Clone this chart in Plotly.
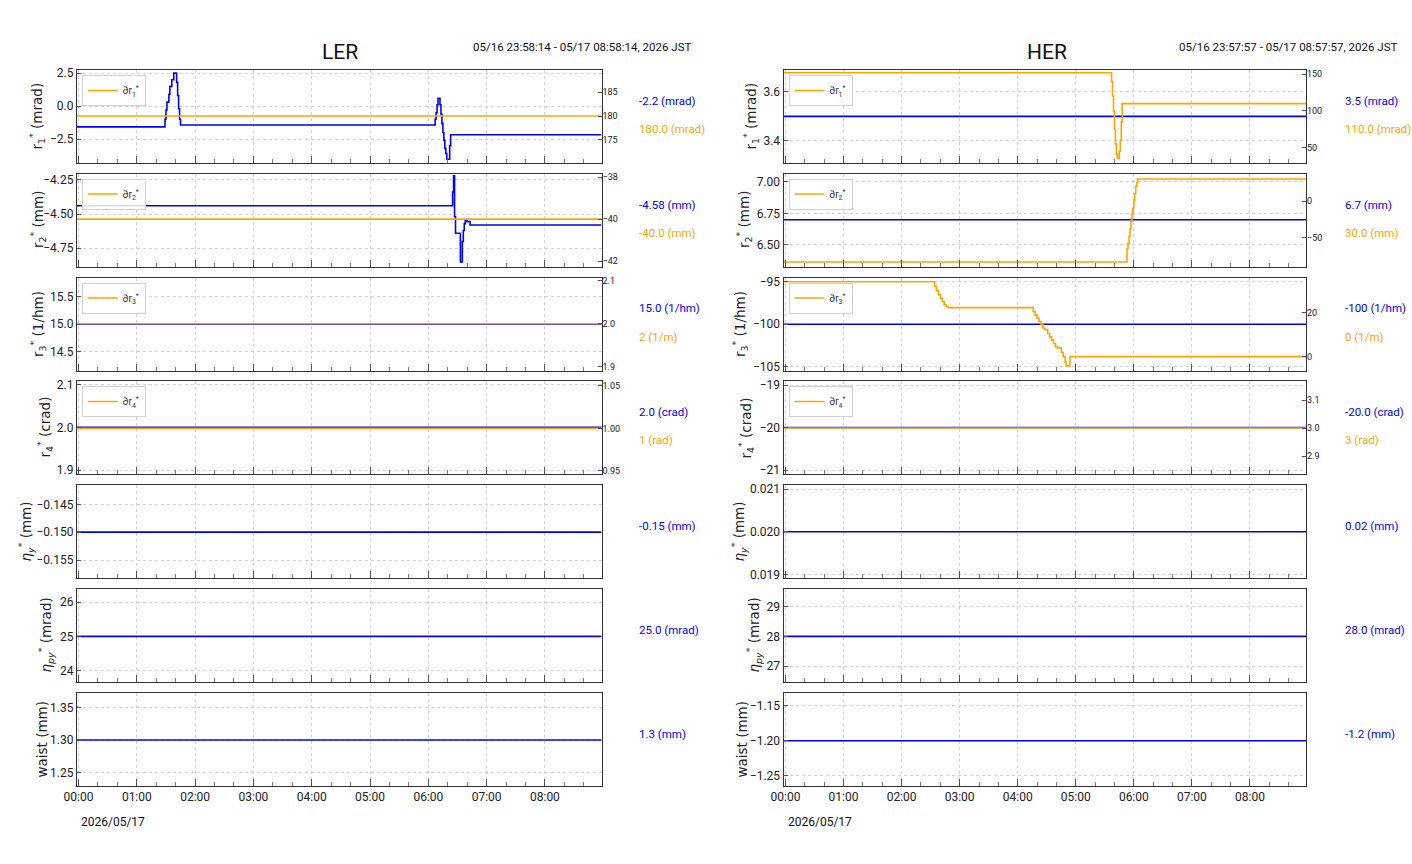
import plotly.graph_objects as go

W, H = 1412, 864
BLUE = "#0000ff"
ORANGE = "#ffa500"
NARROW = "Roboto, Liberation Sans, sans-serif"
WIDE = "DejaVu Sans, sans-serif"

LER_START = "2026-05-16 23:58:14"
LER_END = "2026-05-17 08:58:14"
HER_START = "2026-05-16 23:57:57"
HER_END = "2026-05-17 08:57:57"
DAY = "2026-05-17"

# ---------------- LER data ----------------
ler_r1_t = ["start", "01:29", "01:30", "01:31", "01:33", "01:34", "01:36", "01:38", "01:41", "01:42",
            "01:43", "01:44", "01:45", "06:07", "06:08", "06:09", "06:10", "06:12", "06:13", "06:14",
            "06:15", "06:16", "06:17", "06:18", "06:19", "06:22", "06:23", "end"]
ler_r1_v = [-1.58, -1.0, -0.3, 0.3, 0.9, 1.5, 2.0, 2.5, 1.8, 0.8,
            -0.2, -1.0, -1.43, -1.0, -0.5, 0.1, 0.6, 0.1, -0.6, -1.3,
            -2.0, -2.6, -3.2, -3.6, -4.03, -3.0, -2.17, -2.17]
ler_dr1_t = ["start", "end"]
ler_dr1_v = [180.0, 180.0]

ler_r2_t = ["start", "06:25", "06:26", "06:27", "06:28", "06:33", "06:35", "06:36", "06:37", "06:38",
            "06:40", "06:43", "end"]
ler_r2_v = [-4.44, -4.34, -4.22, -4.52, -4.64, -4.85, -4.70, -4.62, -4.57, -4.55,
            -4.555, -4.58, -4.58]
ler_dr2_t = ["start", "end"]
ler_dr2_v = [-40.0, -40.0]

ler_r3_t = ["start", "end"]
ler_r3_v = [15.0, 15.0]
ler_dr3_t = ["start", "end"]
ler_dr3_v = [2.0, 2.0]

ler_r4_t = ["start", "end"]
ler_r4_v = [2.0, 2.0]
ler_dr4_t = ["start", "end"]
ler_dr4_v = [1.0, 1.0]

ler_etay_t = ["start", "end"]
ler_etay_v = [-0.15, -0.15]
ler_etapy_t = ["start", "end"]
ler_etapy_v = [25.0, 25.0]
ler_waist_t = ["start", "end"]
ler_waist_v = [1.3, 1.3]

# ---------------- HER data ----------------
her_r1_t = ["start", "end"]
her_r1_v = [3.5, 3.5]
her_dr1_t = ["start", "05:37", "05:38", "05:39", "05:40", "05:41", "05:42", "05:43", "05:45", "05:46",
             "05:47", "05:48", "end"]
her_dr1_v = [152.2, 140, 120, 100, 75, 55, 40, 35, 45, 60,
             85, 110, 110]

her_r2_t = ["start", "end"]
her_r2_v = [6.7, 6.7]
her_dr2_t = ["start", "05:53", "05:54", "05:55", "05:56", "05:57", "05:58", "05:59", "06:00", "06:01",
             "06:02", "06:03", "06:04", "end"]
her_dr2_v = [-83, -65, -58, -48, -38, -28, -18, -10, 0, 10,
             20, 25, 30, 30]

her_r3_t = ["start", "end"]
her_r3_v = [-100, -100]
her_dr3_t = ["start", "02:34", "02:36", "02:38", "02:40", "02:42", "02:44", "02:46", "02:48", "04:16",
             "04:18", "04:20", "04:22", "04:24", "04:26", "04:28", "04:31", "04:33", "04:35", "04:37",
             "04:39", "04:41", "04:45", "04:47", "04:49", "04:50", "04:54", "end"]
her_dr3_v = [34.1, 32, 30, 28.2, 26.5, 25, 23.6, 22.8, 22.3, 20.5,
             19, 17.5, 16, 14.5, 13, 12.3, 10.5, 9, 7.5, 6,
             4.5, 4, 2, 0, -2.5, -4.2, 0, 0]

her_r4_t = ["start", "end"]
her_r4_v = [-20.0, -20.0]
her_dr4_t = ["start", "end"]
her_dr4_v = [3.0, 3.0]

her_etay_t = ["start", "end"]
her_etay_v = [0.02, 0.02]
her_etapy_t = ["start", "end"]
her_etapy_v = [28.0, 28.0]
her_waist_t = ["start", "end"]
her_waist_v = [-1.2, -1.2]

# labels
ler_blue_labels = ["-2.2 (mrad)", "-4.58 (mm)", "15.0 (1/hm)", "2.0 (crad)", "-0.15 (mm)", "25.0 (mrad)", "1.3 (mm)"]
ler_orange_labels = ["180.0 (mrad)", "-40.0 (mm)", "2 (1/m)", "1 (rad)"]
her_blue_labels = ["3.5 (mrad)", "6.7 (mm)", "-100 (1/hm)", "-20.0 (crad)", "0.02 (mm)", "28.0 (mrad)", "-1.2 (mm)"]
her_orange_labels = ["110.0 (mrad)", "30.0 (mm)", "0 (1/m)", "3 (rad)"]

y_titles = ["r<sub>1</sub><sup>*</sup> (mrad)", "r<sub>2</sub><sup>*</sup> (mm)", "r<sub>3</sub><sup>*</sup> (1/hm)",
            "r<sub>4</sub><sup>*</sup> (crad)", "<i>η</i><sub><i>y</i></sub><sup>*</sup> (mm)",
            "<i>η</i><sub><i>py</i></sub><sup>*</sup> (mrad)", "waist (mm)"]
legend_names = ["∂r<sub>1</sub><sup>*</sup>", "∂r<sub>2</sub><sup>*</sup>",
                "∂r<sub>3</sub><sup>*</sup>", "∂r<sub>4</sub><sup>*</sup>"]


def full(ts, start, end):
    if ts == "start":
        return start
    if ts == "end":
        return end
    return f"{DAY} {ts}"


sides = [
    dict(name="LER", start=LER_START, end=LER_END, x0=76.8, x1=601.5,
         title_x=340, range_x=693, range_text="05/16 23:58:14 - 05/17 08:58:14, 2026 JST",
         lab_x=637,
         blue=[(ler_r1_t, ler_r1_v), (ler_r2_t, ler_r2_v), (ler_r3_t, ler_r3_v), (ler_r4_t, ler_r4_v),
               (ler_etay_t, ler_etay_v), (ler_etapy_t, ler_etapy_v), (ler_waist_t, ler_waist_v)],
         orange=[(ler_dr1_t, ler_dr1_v), (ler_dr2_t, ler_dr2_v), (ler_dr3_t, ler_dr3_v), (ler_dr4_t, ler_dr4_v)],
         blue_labels=ler_blue_labels, orange_labels=ler_orange_labels,
         yl=[dict(range=[-4.32, 2.74], dtick=2.5, tickformat=".1f"),
             dict(range=[-4.883, -4.204], dtick=0.25, tickformat=".2f"),
             dict(range=[14.16, 15.85], dtick=0.5, tickformat=".1f"),
             dict(range=[1.8906, 2.109], dtick=0.1, tickformat=".1f"),
             dict(range=[-0.15823, -0.14153], dtick=0.005, tickformat=".3f"),
             dict(range=[23.66, 26.39], dtick=1, tickformat="d"),
             dict(range=[1.2297, 1.3719], dtick=0.05, tickformat=".2f")],
         yr=[dict(range=[170.1, 189.7], dtick=5, tickformat="d"),
             dict(range=[-42.26, -37.82], dtick=2, tickformat="d"),
             dict(range=[1.891, 2.108], dtick=0.1, tickformat=".1f"),
             dict(range=[0.9464, 1.0556], dtick=0.05, tickformat=".2f")],
         title_px=[37, 38, 38, 45, 26, 46, 41]),
    dict(name="HER", start=HER_START, end=HER_END, x0=783.5, x1=1306,
         title_x=1047, range_x=1399, range_text="05/16 23:57:57 - 05/17 08:57:57, 2026 JST",
         lab_x=1343,
         blue=[(her_r1_t, her_r1_v), (her_r2_t, her_r2_v), (her_r3_t, her_r3_v), (her_r4_t, her_r4_v),
               (her_etay_t, her_etay_v), (her_etapy_t, her_etapy_v), (her_waist_t, her_waist_v)],
         orange=[(her_dr1_t, her_dr1_v), (her_dr2_t, her_dr2_v), (her_dr3_t, her_dr3_v), (her_dr4_t, her_dr4_v)],
         blue_labels=her_blue_labels, orange_labels=her_orange_labels,
         yl=[dict(range=[3.309, 3.69], dtick=0.2, tickformat=".1f"),
             dict(range=[6.33, 7.065], dtick=0.25, tickformat=".2f"),
             dict(range=[-105.45, -94.5], dtick=5, tickformat="d"),
             dict(range=[-21.094, -18.906], dtick=1, tickformat="d"),
             dict(range=[0.018913, 0.0211], dtick=0.001, tickformat=".3f"),
             dict(range=[26.47, 29.59], dtick=1, tickformat="d"),
             dict(range=[-1.2647, -1.1319], dtick=0.05, tickformat=".2f")],
         yr=[dict(range=[28.9, 155.9], dtick=50, tickformat="d"),
             dict(range=[-89.2, 37.5], dtick=50, tickformat="d"),
             dict(range=[-6.3, 36.0], dtick=20, tickformat="d"),
             dict(range=[2.836, 3.168], dtick=0.1, tickformat=".1f")],
         title_px=[751, 744, 740, 746, 739, 754, 741]),
]

TOPS = [70, 173.5, 277.5, 381, 485, 589, 693]
PH = 93

fig = go.Figure()
layout = dict(width=W, height=H, margin=dict(l=0, r=0, t=0, b=0, autoexpand=False),
              paper_bgcolor="white", plot_bgcolor="white", showlegend=True,
              font=dict(family=NARROW, color="#222222"))
annotations = []
legend_count = 0

for s, side in enumerate(sides):
    xd = [side["x0"] / W, side["x1"] / W]
    for r in range(7):
        k = s * 7 + r + 1
        top = TOPS[r]
        yd = [1 - (top + PH) / H, 1 - top / H]
        layout[f"xaxis{k}"] = dict(
            domain=xd, anchor=f"y{k}", type="date", range=[side["start"], side["end"]],
            tick0=f"{DAY} 00:00", dtick=3600000, tickformat="%H:%M", automargin=False,
            ticks="inside", ticklen=7, tickcolor="#555555", tickwidth=1,
            showticklabels=(r == 6), tickfont=dict(size=12, family=NARROW, color="#222222"),
            showgrid=True, gridcolor="#d2d2d2", griddash="dot", gridwidth=1,
            showline=True, linecolor="#333333", linewidth=1, mirror=True, zeroline=False,
            minor=dict(dtick=1200000, tick0=f"{DAY} 00:00", ticks="inside", ticklen=4,
                       tickcolor="#777777", showgrid=False),
        )
        yl = side["yl"][r]
        layout[f"yaxis{k}"] = dict(
            domain=yd, anchor=f"x{k}", range=yl["range"], dtick=yl["dtick"], tickformat=yl["tickformat"],
            ticks="inside", ticklen=4, tickcolor="#555555", automargin=False,
            tickfont=dict(size=12, family=NARROW, color="#222222"),
            showgrid=True, gridcolor="#d2d2d2", griddash="dot", gridwidth=1,
            showline=True, linecolor="#333333", linewidth=1, mirror=True, zeroline=False,
        )
        bt, bv = side["blue"][r]
        fig.add_trace(go.Scatter(
            x=[full(t, side["start"], side["end"]) for t in bt], y=bv,
            xaxis=f"x{k}", yaxis=f"y{k}", mode="lines",
            line=dict(color=BLUE, width=1.6, shape="hv"), showlegend=False, hoverinfo="skip"))

        if r < 4:
            idx = 14 + s * 4 + r + 1
            yr = side["yr"][r]
            layout[f"yaxis{idx}"] = dict(
                overlaying=f"y{k}", side="right", anchor=f"x{k}", range=yr["range"],
                dtick=yr["dtick"], tickformat=yr["tickformat"], ticks="inside", ticklen=4,
                tickcolor="#555555", tickfont=dict(size=9, family=NARROW, color="#222222"),
                showgrid=False, zeroline=False, showline=False, automargin=False,
            )
            legend_count += 1
            lname = "legend" if legend_count == 1 else f"legend{legend_count}"
            ot, ov = side["orange"][r]
            fig.add_trace(go.Scatter(
                x=[full(t, side["start"], side["end"]) for t in ot], y=ov,
                xaxis=f"x{k}", yaxis=f"y{idx}", mode="lines", name=legend_names[r],
                line=dict(color=ORANGE, width=1.6, shape="hv"), opacity=1.0,
                showlegend=True, legend=lname, hoverinfo="skip"))
            layout[lname] = dict(
                x=xd[0] + 5 / W, y=yd[1] - 5 / H, xanchor="left", yanchor="top",
                xref="paper", yref="paper",
                bgcolor="rgba(255,255,255,0.85)", bordercolor="#d0d0d0", borderwidth=1,
                font=dict(size=10, family=NARROW, color="#333333"), itemwidth=30,
            )
            annotations.append(dict(
                x=side["lab_x"] / W, y=1 - (top + 31) / H, xref="paper", yref="paper",
                xanchor="left", yanchor="middle", showarrow=False, text=side["blue_labels"][r],
                font=dict(size=11.5, family=NARROW, color=BLUE)))
            annotations.append(dict(
                x=side["lab_x"] / W, y=1 - (top + 59) / H, xref="paper", yref="paper",
                xanchor="left", yanchor="middle", showarrow=False, text=side["orange_labels"][r],
                font=dict(size=11.5, family=NARROW, color=ORANGE)))
        else:
            annotations.append(dict(
                x=side["lab_x"] / W, y=1 - (top + 41) / H, xref="paper", yref="paper",
                xanchor="left", yanchor="middle", showarrow=False, text=side["blue_labels"][r],
                font=dict(size=11.5, family=NARROW, color=BLUE)))

        # y-axis title
        annotations.append(dict(
            x=side["title_px"][r] / W, y=1 - (top + PH / 2) / H, xref="paper", yref="paper",
            xanchor="center", yanchor="middle", showarrow=False, textangle=-90,
            text=y_titles[r], font=dict(size=13.5, family=WIDE, color="#222222")))

    # titles
    annotations.append(dict(x=side["title_x"] / W, y=1 - 52 / H, xref="paper", yref="paper",
                            xanchor="center", yanchor="middle", showarrow=False, text=side["name"],
                            font=dict(size=21, family=NARROW, color="#111111")))
    annotations.append(dict(x=side["range_x"] / W, y=1 - 47 / H, xref="paper", yref="paper",
                            xanchor="right", yanchor="middle", showarrow=False, text=side["range_text"],
                            font=dict(size=11.5, family=NARROW, color="#111111")))
    annotations.append(dict(x=(side["x0"] + 2) / W, y=1 - 822 / H, xref="paper", yref="paper",
                            xanchor="left", yanchor="middle", showarrow=False, text="2026/05/17",
                            font=dict(size=12, family=NARROW, color="#111111")))

layout["annotations"] = annotations
fig.update_layout(**layout)
fig.write_html("out.html")
